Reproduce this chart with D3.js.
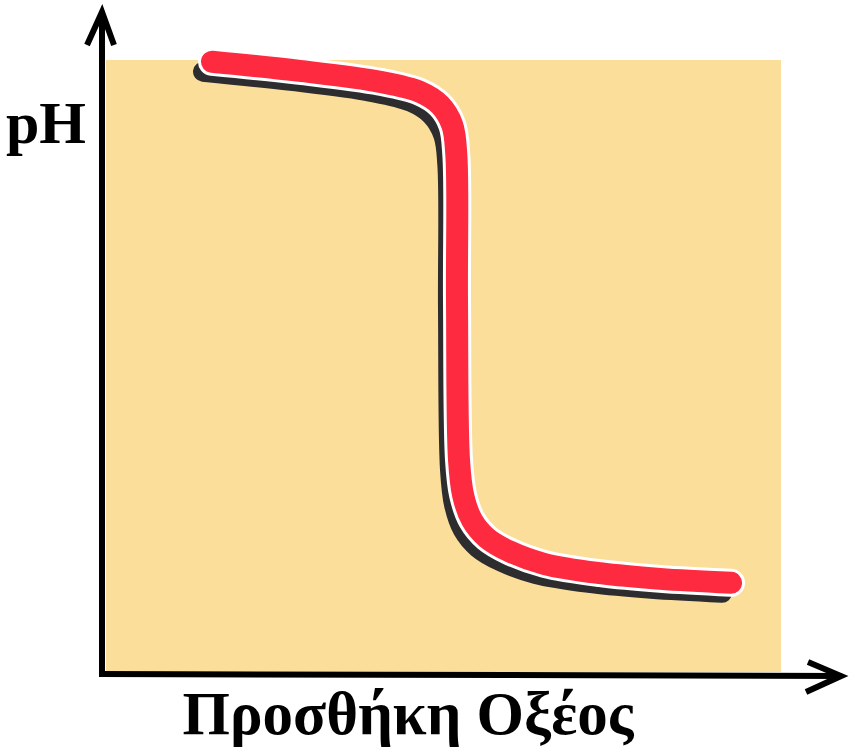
<!DOCTYPE html>
<html>
<head>
<meta charset="utf-8">
<script src="https://cdn.jsdelivr.net/npm/d3@7"></script>
<style>
  body { margin: 0; background: #fff; }
  svg { display: block; }
  .lbl { font-family: "Liberation Serif", "Times New Roman", serif; font-weight: bold; fill: #000; }
</style>
</head>
<body>
<div id="chart"></div>
<script>
// acid added (arbitrary units, 0-100) vs pH
var acidAdded = [15.7, 28.7, 40.6, 46.5, 49.5, 51.3, 51.9, 52.0, 52.3, 52.9, 54.2, 56.4, 59.9, 65.0, 73.2, 82.1, 92.6];
var pHValues  = [13.96, 13.75, 13.5, 13.27, 12.97, 12.51, 11.83, 8.51, 4.85, 4.05, 3.48, 3.07, 2.75, 2.47, 2.26, 2.13, 2.04];
var xLabel = 'Προσθήκη Οξέος';
var yLabel = 'pH';

var width = 856, height = 756;

var svg = d3.select('#chart').append('svg')
  .attr('width', width)
  .attr('height', height);

var x = d3.scaleLinear().domain([0, 100]).range([106, 781]);
var y = d3.scaleLinear().domain([0, 14]).range([672, 60]);

// background panel
svg.append('rect')
  .attr('x', x(0)).attr('y', y(14))
  .attr('width', x(100) - x(0))
  .attr('height', y(0) - y(14))
  .attr('fill', '#fcde9b');

var pts = acidAdded.map(function(d, i) { return [d, pHValues[i]]; });

var line = d3.line()
  .x(function(d) { return x(d[0]); })
  .y(function(d) { return y(d[1]); })
  .curve(d3.curveCatmullRom.alpha(0.5));

var g = svg.append('g');
// dark shadow
g.append('path')
  .attr('d', line(pts))
  .attr('transform', 'translate(-9,10)')
  .attr('fill', 'none')
  .attr('stroke', '#2d2d2f')
  .attr('stroke-width', 20)
  .attr('stroke-linecap', 'round')
  .attr('stroke-linejoin', 'round');
// white outline
g.append('path')
  .attr('d', line(pts))
  .attr('fill', 'none')
  .attr('stroke', '#fff')
  .attr('stroke-width', 28)
  .attr('stroke-linecap', 'round')
  .attr('stroke-linejoin', 'round');
// red curve
g.append('path')
  .attr('d', line(pts))
  .attr('fill', 'none')
  .attr('stroke', '#fe2a40')
  .attr('stroke-width', 22)
  .attr('stroke-linecap', 'round')
  .attr('stroke-linejoin', 'round');

// axes with open arrow heads
var ax = svg.append('g')
  .attr('fill', 'none')
  .attr('stroke', '#000')
  .attr('stroke-width', 6)
  .attr('stroke-linecap', 'butt')
  .attr('stroke-linejoin', 'miter');

var x0 = x(0) - 4, y0 = y(0) + 2;
ax.append('line').attr('x1', x0).attr('y1', y0 + 3).attr('x2', x0).attr('y2', 12);
ax.append('polyline').attr('points', [[x0 - 15, 45], [x0, 12], [x0 + 12, 45]].join(' '));
ax.append('line').attr('x1', x0 - 3).attr('y1', y0).attr('x2', 842).attr('y2', y0 + 2);
ax.append('polyline').attr('points', [[808, y0 - 12], [841, y0 + 2], [806, y0 + 18]].join(' '));

svg.append('text')
  .attr('class', 'lbl')
  .attr('x', 6).attr('y', 143)
  .attr('font-size', 60)
  .text(yLabel);

svg.append('text')
  .attr('class', 'lbl')
  .attr('x', 408).attr('y', 734)
  .attr('text-anchor', 'middle')
  .attr('font-size', 61)
  .text(xLabel);
</script>
</body>
</html>
